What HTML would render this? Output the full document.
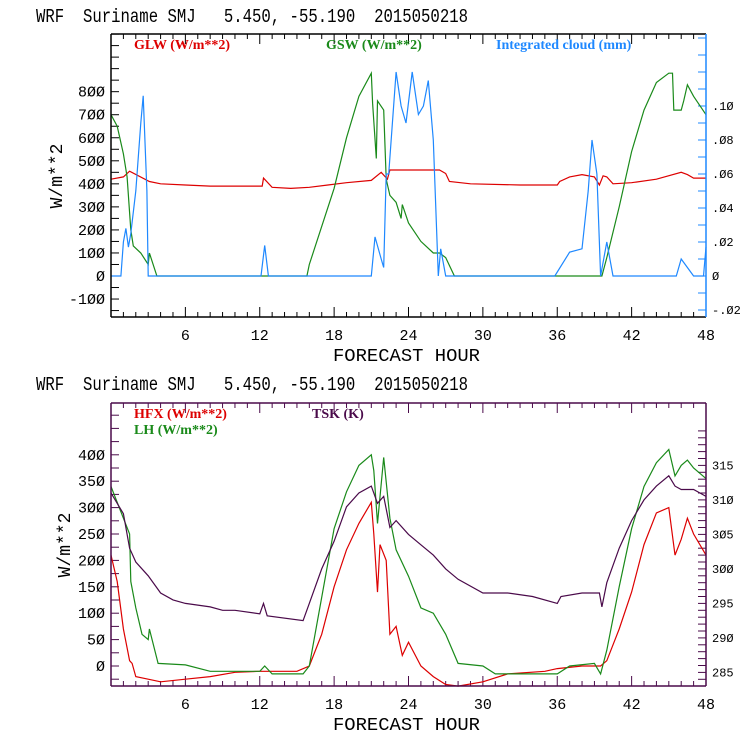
<!DOCTYPE html>
<html><head><meta charset="utf-8"><style>
body{margin:0;background:#fff;}
svg{display:block;}
.t{font-family:"Liberation Mono",monospace;font-size:19px;fill:#000;white-space:pre;}
.lab{font-family:"Liberation Mono",monospace;font-size:15px;fill:#000;}
.leg{font-family:"Liberation Serif",serif;font-size:14px;font-weight:bold;}
</style></head><body>
<svg id="c" width="740" height="740" xmlns="http://www.w3.org/2000/svg"></svg>
<script>
// ---- data: top panel ----
const glwH=[0,1,1.5,3.1,4,6,8,12.2,12.3,13,14.5,16,17.5,19,21,21.8,22.3,22.5,26.5,27,27.3,29,33,36,36.2,37,38,39,39.4,39.7,40,40.5,42,44,46,46.5,47,48];
const glwV=[420,430,455,410,400,395,390,390,425,385,380,385,395,405,415,450,420,460,460,445,410,400,395,395,410,430,440,430,395,435,430,400,405,420,450,440,425,425];
const gswH=[0,0.5,1,1.3,1.6,1.8,2.4,3.0,3.1,3.7,15.8,16,18,19,20,21,21.1,21.4,21.5,22.0,22.2,22.5,23.0,23.4,23.5,24,25,26,26.5,27,27.7,39.6,40,41,42,43,44,45,45.3,45.4,46,46.2,46.5,47,48];
const gswV=[700,650,530,430,200,130,100,50,100,0,0,50,380,600,780,880,750,510,760,720,420,350,320,250,310,230,150,100,100,80,0,0,80,300,540,720,840,880,880,720,720,760,830,780,700];
const cldH=[0,0.8,1.0,1.2,1.4,1.6,2.0,2.4,2.6,2.9,3.0,12.1,12.4,12.7,21.0,21.3,21.8,22.0,22.2,22.4,23,23.4,23.8,24.3,24.8,25.2,25.6,26.0,26.4,26.6,27.0,35.8,37,38,38.5,38.8,39.2,39.5,40.0,40.5,45.6,46.0,46.5,47,47.8,48];
const cldV=[0,0,0.02,0.028,0.017,0.025,0.05,0.09,0.106,0.05,0,0,0.018,0,0,0.023,0.01,0.005,0.06,0.06,0.12,0.1,0.09,0.12,0.095,0.1,0.115,0.08,0,0.016,0,0,0.014,0.016,0.05,0.08,0.06,0,0.02,0,0,0.01,0.005,0,0,0.017];
// ---- data: bottom panel ----
const hfxH=[0,0.5,1,1.5,1.7,2,3,4,6,8,10,12,15,16,17,18,19,20,21,21.2,21.5,21.7,22.2,22.5,23,23.5,24,25,26,27,28,30,32,35,36,38,39.5,40,41,42,43,44,45,45.5,46,46.5,47,48];
const hfxV=[210,160,70,10,5,-20,-25,-30,-25,-20,-12,-10,-10,0,60,150,220,270,310,250,140,230,200,60,75,20,45,0,-20,-35,-38,-30,-15,-10,-5,0,0,10,70,140,230,290,300,210,240,280,250,210];
const lhH=[0,1,1.5,1.6,2,2.5,3.0,3.1,3.8,6,8,12,12.4,13,15.5,16,17,18,19,20,21,21.2,21.5,22,22.5,23,24,25,26,27,28,30,31,33,36,37,39,39.5,40,41,42,43,44,45,45.5,46,46.5,47,48];
const lhV=[340,280,250,160,110,60,50,70,5,2,-10,-10,0,-15,-15,0,130,260,330,380,400,370,270,395,280,220,170,110,100,60,5,0,-15,-15,-15,0,5,-15,30,150,260,340,385,410,360,380,390,375,355];
const tskH=[0,1,1.5,2,3,4,5,6,8,9,10,12,12.3,12.6,15.5,16,17,18,19,20,21,21.5,22,22.5,23,24,25,26,27,28,30,32,34,36,36.3,38,39.4,39.6,40,41,42,43,44,45,45.5,46,47,48];
const tskV=[311,308,303,301,299,296.5,295.5,295,294.5,294,294,293.5,295,293.2,292.5,295,300,304,309,311,312,309.5,310.5,306,307,305,303.5,302,300,298.5,296.5,296.5,296,295,296,296.5,296.5,294.5,298,303,307,310,312,313.5,312,311.5,311.5,310.5];
const topLeftTicks=[-100,0,100,200,300,400,500,600,700,800];
const topRightTicks=[-0.02,0,0.02,0.04,0.06,0.08,0.10];
const botLeftTicks=[0,50,100,150,200,250,300,350,400];
const botRightTicks=[285,290,295,300,305,310,315];
const xTicks=[6,12,18,24,30,36,42,48];

const NS="http://www.w3.org/2000/svg";
const svg=document.getElementById('c');
function mk(tag,attrs,parent){const e=document.createElementNS(NS,tag);for(const k in attrs)e.setAttribute(k,attrs[k]);(parent||svg).appendChild(e);return e;}
const X0=111,X1=706;
const xs=h=>X0+(X1-X0)*h/48;
function stepPath(H,V,ys){let d='';for(let i=0;i<H.length;i++){d+=(i?'L':'M')+xs(H[i]).toFixed(1)+','+ys(V[i]).toFixed(1);}return d;}

function panel(o){
  const t=mk('text',{x:36,y:o.titleY,class:'t',textLength:432,lengthAdjust:'spacingAndGlyphs'});
  
  
  t.textContent='WRF  Suriname SMJ   5.450, -55.190  2015050218';
  const g=mk('g',{});
  
  
  for(let h=1;h<48;h++){const len=h%6===0?10:5;
    mk('line',{x1:xs(h),x2:xs(h),y1:o.bot,y2:o.bot-len,stroke:o.lc,'stroke-width':1},g);
    mk('line',{x1:xs(h),x2:xs(h),y1:o.top,y2:o.top+len,stroke:o.lc,'stroke-width':1},g);}
  xTicks.forEach(h=>{const tx=mk('text',{x:xs(h),y:o.bot+23,class:'lab','text-anchor':'middle'},g);
    
    
    tx.textContent=h;});
  for(let v=o.lmin;v<=o.lmax;v+=o.lstep){const y=o.yl(v);if(y<o.top||y>o.bot)continue;
    mk('line',{x1:X0,x2:X0+8,y1:y,y2:y,stroke:o.lc},g);}
  o.lt.forEach(v=>{const tx=mk('text',{x:X0-6,y:o.yl(v)+5,class:'lab','text-anchor':'end'},g);
    
    
    tx.textContent=String(v).replace(/0/g,'Ø');});
  for(let v=o.rmin;v<=o.rmax+1e-9;v+=o.rstep){const y=o.yr(v);if(y<o.top||y>o.bot)continue;
    mk('line',{x1:X1,x2:X1-8,y1:y,y2:y,stroke:o.rc},g);}
  o.rt.forEach(v=>{const tx=mk('text',{x:X1+6,y:o.yr(v)+4,class:'lab',style:'font-size:12px'},g);
    
    
    tx.textContent=o.rfmt(v);});
  o.series.forEach(s=>{const p=mk('path',{d:stepPath(s.h,s.v,s.ys),fill:'none',stroke:s.c,'stroke-width':1.2},g);
    
    });
  mk('line',{x1:X0,x2:X1,y1:o.top,y2:o.top,stroke:o.lc,'stroke-width':1.5},g);
  mk('line',{x1:X0,x2:X1,y1:o.bot,y2:o.bot,stroke:o.lc,'stroke-width':1.5},g);
  mk('line',{x1:X0,x2:X0,y1:o.top,y2:o.bot,stroke:o.lc,'stroke-width':1.5},g);
  mk('line',{x1:X1,x2:X1,y1:o.top,y2:o.bot,stroke:o.rc,'stroke-width':1.5},g);
  const xl=mk('text',{x:333,y:o.bot+44,class:'t',textLength:147,lengthAdjust:'spacingAndGlyphs',style:'font-size:18px'},g);
  
  
  xl.textContent='FORECAST HOUR';
  const yl=mk('text',{x:0,y:0,class:'t','text-anchor':'middle',transform:`translate(${o.ylx},${o.ylY}) rotate(-90)`,style:'font-size:18px'},g);
  
  
  yl.textContent='W/m**2';
  o.legend.forEach(l=>{const tx=mk('text',{x:l.x,y:l.y,class:'leg',fill:l.c},g);
    
    
    tx.textContent=l.t;});
}
const yT=v=>276-v*0.2304, yTr=v=>276-v*(276-106)/0.10;
panel({p:'top',titleY:22,top:34,bot:317,lc:'#000',rc:'#1e88ff',yl:yT,yr:yTr,lmin:-150,lmax:1050,lstep:50,lt:topLeftTicks,
  rmin:-0.02,rmax:0.14,rstep:0.01,rt:topRightTicks,rfmt:v=>v===0?'Ø':(v<0?'-':'')+'.'+String(Math.round(Math.abs(v)*100)).padStart(2,'0').replace(/0/g,'Ø'),
  ylx:62,ylY:176,
  series:[{n:'glw-line',h:glwH,v:glwV,ys:yT,c:'#dd0000'},{n:'gsw-line',h:gswH,v:gswV,ys:yT,c:'#1a8a1a'},{n:'cloud-line',h:cldH,v:cldV,ys:yTr,c:'#1e88ff'}],
  legend:[{x:134,y:49,t:'GLW (W/m**2)',c:'#dd0000'},{x:326,y:49,t:'GSW (W/m**2)',c:'#1a8a1a'},{x:496,y:49,t:'Integrated cloud (mm)',c:'#1e88ff'}]});
const yB=v=>666-v*0.528, yBr=v=>672.4-(v-285)*6.9;
panel({p:'bottom',titleY:390,top:403,bot:686,lc:'#4a0a4a',rc:'#4a0a4a',yl:yB,yr:yBr,lmin:-25,lmax:500,lstep:25,lt:botLeftTicks,
  rmin:283,rmax:320,rstep:1,rt:botRightTicks,rfmt:v=>String(v).replace(/0/g,'Ø'),
  ylx:70,ylY:545,
  series:[{n:'hfx-line',h:hfxH,v:hfxV,ys:yB,c:'#dd0000'},{n:'lh-line',h:lhH,v:lhV,ys:yB,c:'#1a8a1a'},{n:'tsk-line',h:tskH,v:tskV,ys:yBr,c:'#4a0a4a'}],
  legend:[{x:134,y:418,t:'HFX (W/m**2)',c:'#dd0000'},{x:134,y:434,t:'LH  (W/m**2)',c:'#1a8a1a'},{x:312,y:418,t:'TSK (K)',c:'#4a0a4a'}]});
</script>
</body></html>
